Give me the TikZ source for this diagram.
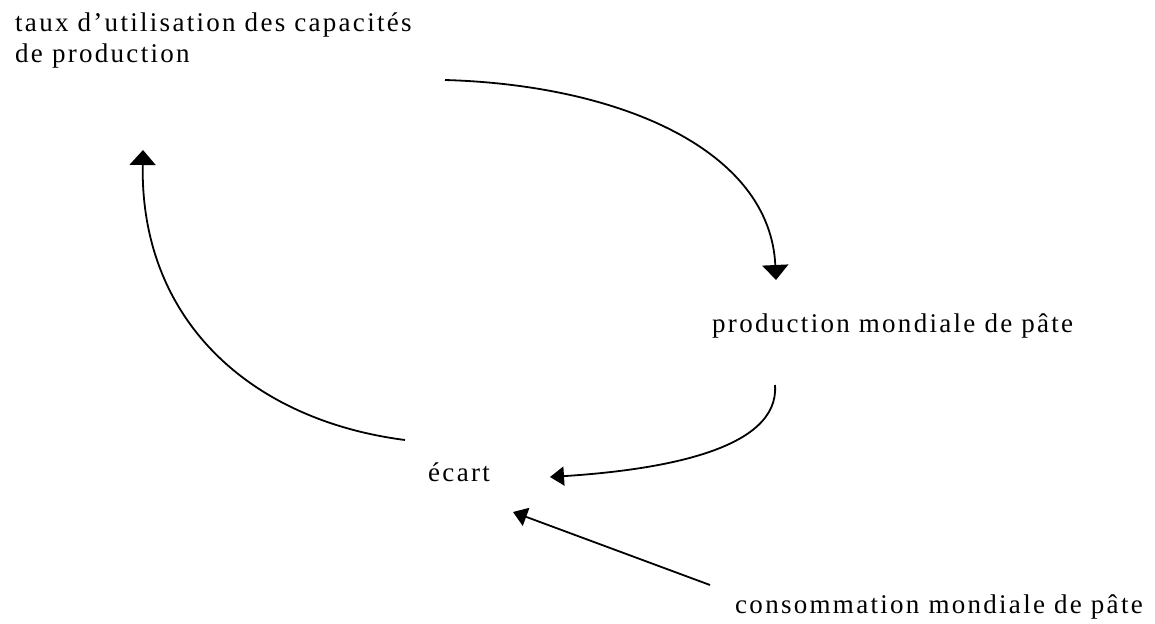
\documentclass[tikz,border=0pt]{standalone}
\usepackage{fontspec}
\setmainfont{Liberation Serif}[LetterSpace=8.5]
\usetikzlibrary{arrows.meta}
\tikzset{
  lbl/.style={inner sep=0pt, anchor=base west, font=\fontsize{27}{31}\selectfont, align=left},
  link/.style={line width=1.8pt, -{Triangle[width=26pt,length=15pt]}},
  slink/.style={line width=1.8pt, -{Triangle[width=19pt,length=14pt]}}
}
\begin{document}
\begin{tikzpicture}[x=1pt,y=-1pt]
\useasboundingbox (0,0) rectangle (1155,623);
\node[lbl] (taux) at (15,63) {taux d'utilisation des capacités\\de production};
\node[lbl] (prod) at (712,332) {production mondiale de pâte};
\node[lbl] (ecart) at (428,481) {écart};
\node[lbl] (conso) at (735,613) {consommation mondiale de pâte};
\coordinate (a1s) at (445,80);
\coordinate (a1e) at (776,280);
\coordinate (a2s) at (405,440);
\coordinate (a2e) at (143,150);
\coordinate (a3s) at (775,385);
\coordinate (a3e) at (550,477);
\coordinate (a4s) at (710,585);
\coordinate (a4e) at (513,512);
\draw[link] (a1s) .. controls (620,85) and (770,150) .. (a1e);
\draw[link] (a2s) .. controls (250,420) and (140,320) .. (a2e);
\draw[slink] (a3s) .. controls (780,450) and (660,470) .. (a3e);
\draw[slink] (a4s) -- (a4e);
\end{tikzpicture}
\end{document}
